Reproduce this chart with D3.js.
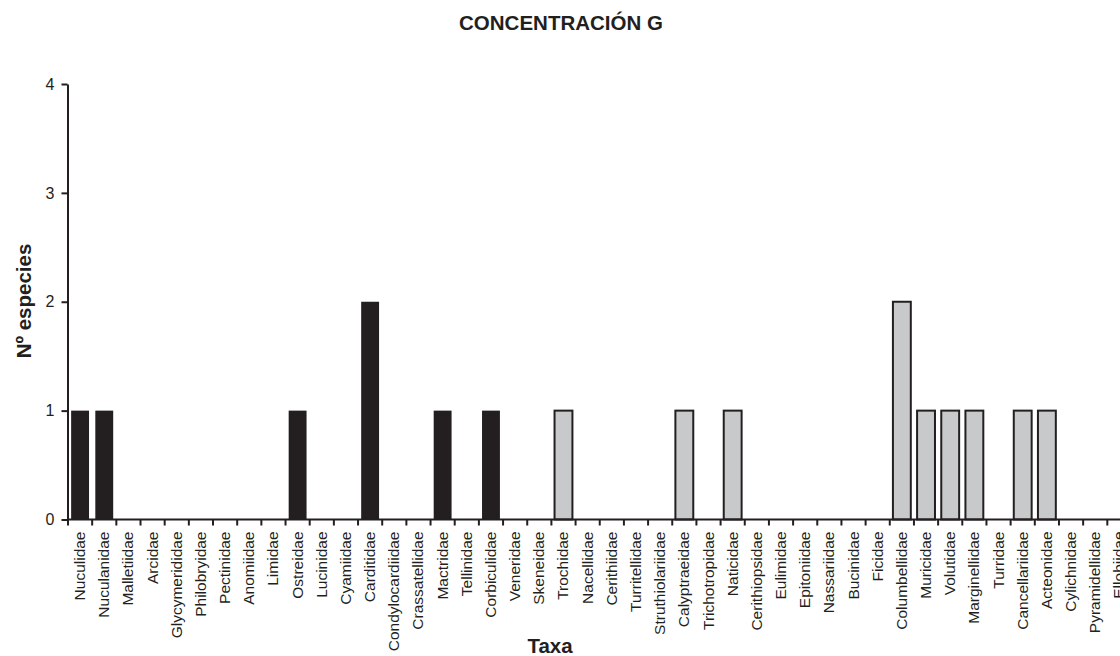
<!DOCTYPE html>
<html>
<head>
<meta charset="utf-8">
<script src="https://cdn.jsdelivr.net/npm/d3@7"></script>
<style>
  html, body { margin: 0; padding: 0; background: #fff; }
  svg { display: block; font-family: Arial, "Liberation Sans", sans-serif; }
</style>
</head>
<body>
<svg id="chart" width="1120" height="656"></svg>
<script>
// Families recorded in concentration G
const taxa = [
  "Nuculidae", "Nuculanidae", "Malletiidae", "Arcidae", "Glycymerididae",
  "Philobryidae", "Pectinidae", "Anomiidae", "Limidae", "Ostreidae",
  "Lucinidae", "Cyamiidae", "Carditidae", "Condylocardiidae", "Crassatellidae",
  "Mactridae", "Tellinidae", "Corbiculidae", "Veneridae", "Skeneidae",
  "Trochidae", "Nacellidae", "Cerithiidae", "Turritellidae", "Struthiolariidae",
  "Calyptraeidae", "Trichotropidae", "Naticidae", "Cerithiopsidae", "Eulimidae",
  "Epitoniidae", "Nassariidae", "Bucinidae", "Ficidae", "Columbellidae",
  "Muricidae", "Volutidae", "Marginellidae", "Turridae", "Cancellariidae",
  "Acteonidae", "Cylichnidae", "Pyramidellidae", "Ellobiidae"
];

// Number of species per family
const especies = [
  1, 1, 0, 0, 0,
  0, 0, 0, 0, 1,
  0, 0, 2, 0, 0,
  1, 0, 1, 0, 0,
  1, 0, 0, 0, 0,
  1, 0, 1, 0, 0,
  0, 0, 0, 0, 2,
  1, 1, 1, 0, 1,
  1, 0, 0, 0
];

// Class of each family: bivalves first, then gastropods
const clase = taxa.map((d, i) => i < 19 ? "Bivalvia" : "Gastropoda");

const yTicks = [0, 1, 2, 3, 4];

const ink = "#231f20";
const fillByClass = { Bivalvia: "#231f20", Gastropoda: "#c8c9cb" };

const svg = d3.select("#chart");

const x = d3.scaleBand()
  .domain(taxa)
  .range([68, 68 + taxa.length * 24.17])
  .padding(0);

const y = d3.scaleLinear()
  .domain([0, 4])
  .range([519.5, 84]);

const barW = x.bandwidth() * 0.74;

// Bars
svg.append("g")
  .selectAll("rect")
  .data(taxa.map((t, i) => ({ t, v: especies[i], c: clase[i] })).filter(d => d.v > 0))
  .join("rect")
  .attr("x", d => x(d.t) + (x.bandwidth() - barW) / 2)
  .attr("y", d => y(d.v))
  .attr("width", barW)
  .attr("height", d => y(0) - y(d.v))
  .attr("fill", d => fillByClass[d.c])
  .attr("stroke", d => d.c === "Gastropoda" ? ink : "none")
  .attr("stroke-width", 2);

// X axis: baseline, boundary ticks and rotated labels
const xAxis = svg.append("g").attr("transform", `translate(0,${y(0)})`);

xAxis.append("line")
  .attr("x1", 67).attr("x2", 1120)
  .attr("stroke", ink).attr("stroke-width", 2);

xAxis.selectAll("line.tick")
  .data(taxa)
  .join("line")
  .attr("class", "tick")
  .attr("x1", d => x(d)).attr("x2", d => x(d))
  .attr("y1", 0).attr("y2", 6)
  .attr("stroke", ink).attr("stroke-width", 2);

xAxis.selectAll("text")
  .data(taxa)
  .join("text")
  .attr("transform", d => `translate(${x(d) + x.bandwidth() / 2 + 5},${12}) rotate(-90)`)
  .attr("text-anchor", "end")
  .attr("font-size", 15.5)
  .attr("fill", ink)
  .text(d => d);

// Y axis
const yAxis = svg.append("g")
  .attr("transform", "translate(67.5,0)")
  .call(d3.axisLeft(y).tickValues(yTicks).tickSize(6).tickSizeOuter(0).tickPadding(7).tickFormat(d3.format("d")));

yAxis.select(".domain").attr("stroke", ink).attr("stroke-width", 2);
yAxis.selectAll(".tick line").attr("stroke", ink).attr("stroke-width", 2);
yAxis.selectAll(".tick text")
  .attr("font-size", 16)
  .attr("fill", ink)
  .attr("font-family", "Arial, 'Liberation Sans', sans-serif");

// Title and axis labels
svg.append("text")
  .attr("x", 561).attr("y", 30)
  .attr("text-anchor", "middle")
  .attr("font-size", 20.5)
  .attr("font-weight", "bold")
  .attr("fill", ink)
  .text("CONCENTRACIÓN G");

svg.append("text")
  .attr("x", 550).attr("y", 653)
  .attr("text-anchor", "middle")
  .attr("font-size", 20.5)
  .attr("font-weight", "bold")
  .attr("fill", ink)
  .text("Taxa");

svg.append("text")
  .attr("transform", "translate(31,301) rotate(-90)")
  .attr("text-anchor", "middle")
  .attr("font-size", 20.5)
  .attr("font-weight", "bold")
  .attr("fill", ink)
  .text("Nº especies");
</script>
</body>
</html>
